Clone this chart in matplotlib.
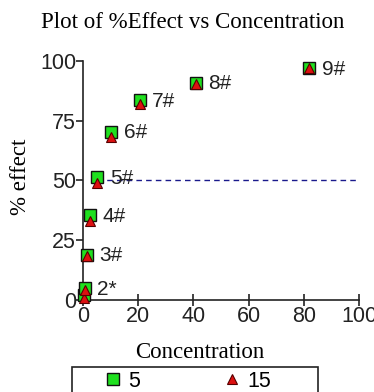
import numpy as np
import matplotlib
matplotlib.use("Agg")
import matplotlib.pyplot as plt
from matplotlib.patches import Rectangle

# concentrations (doubling dilution) and % effect for the two series
conc = [0.32, 0.64, 1.28, 2.56, 5.12, 10.24, 20.48, 40.96, 81.92]
effect_5 = [2.0, 5.0, 19.0, 35.5, 51.5, 70.5, 83.5, 91.0, 97.0]
effect_15 = [1.0, 4.0, 18.5, 33.0, 49.0, 68.0, 82.0, 90.5, 97.0]
point_labels = ["", "2*", "3#", "4#", "5#", "6#", "7#", "8#", "9#"]
half_effect = 50

fig = plt.figure(figsize=(3.74, 3.92), dpi=100)
ax = fig.add_axes([0.222, 0.2347, 0.738, 0.6097])

ax.plot([conc[4], 100], [half_effect, half_effect], linestyle=(0, (4, 3)),
        color='#1a1a8c', linewidth=1, zorder=1)

sq, = ax.plot(conc, effect_5, 's', markersize=8.5, markerfacecolor='#1fe01f',
              markeredgecolor='#111111', markeredgewidth=1, linestyle='none',
              clip_on=False, zorder=3)
tri, = ax.plot(conc, effect_15, '^', markersize=7.5, markerfacecolor='#dd1010',
               markeredgecolor='#550000', markeredgewidth=0.8, linestyle='none',
               clip_on=False, zorder=4)

for c, e, lab in zip(conc, effect_5, point_labels):
    if lab:
        ax.annotate(lab, (c, e), xytext=(9, -1), textcoords='offset points',
                    fontsize=15, family='Liberation Sans', va='center',
                    ha='left', color='#222222')

ax.set_xlim(0, 100)
ax.set_ylim(0, 100)
ax.set_xticks([0, 20, 40, 60, 80, 100])
ax.set_yticks([0, 25, 50, 75, 100])
for s in ['top', 'right']:
    ax.spines[s].set_visible(False)
for s in ['left', 'bottom']:
    ax.spines[s].set_linewidth(1.2)
    ax.spines[s].set_color('#222222')
ax.tick_params(axis='x', direction='inout', length=9, width=1.2, pad=0,
               labelsize=15.5, color='#222222')
ax.tick_params(axis='y', direction='out', length=5, width=1.2, pad=0,
               labelsize=15.5, color='#222222')
for t in ax.get_xticklabels() + ax.get_yticklabels():
    t.set_family('Liberation Sans')
    t.set_color('#222222')

fig.text(0.535, 1 - 353 / 392, 'Concentration', family='Liberation Serif',
         fontsize=16.5, ha='center', va='center')
fig.text(21 / 374, 1 - 177 / 392, '% effect', family='Liberation Serif',
         fontsize=16.5, ha='center', va='center', rotation=90)
fig.text(0.515, 1 - 22 / 392, 'Plot of %Effect vs Concentration',
         family='Liberation Serif', fontsize=16.5, ha='center', va='center')

# legend box runs off the bottom edge, as in the reference
fig.patches.append(Rectangle((72 / 374, -0.05), 246 / 374, 0.05 + 25 / 392,
                             transform=fig.transFigure, fill=False,
                             edgecolor='#222222', linewidth=1.2))
leg = fig.legend([sq, tri], ['5', '15'], ncol=2, loc='upper left',
                 bbox_to_anchor=(102 / 374, 1 - 371 / 392), frameon=False,
                 columnspacing=3.8, handletextpad=0.2, borderpad=0,
                 handlelength=1.0, borderaxespad=0,
                 prop={'family': 'Liberation Sans', 'size': 15.5})

fig.savefig('out.png', dpi=100)
